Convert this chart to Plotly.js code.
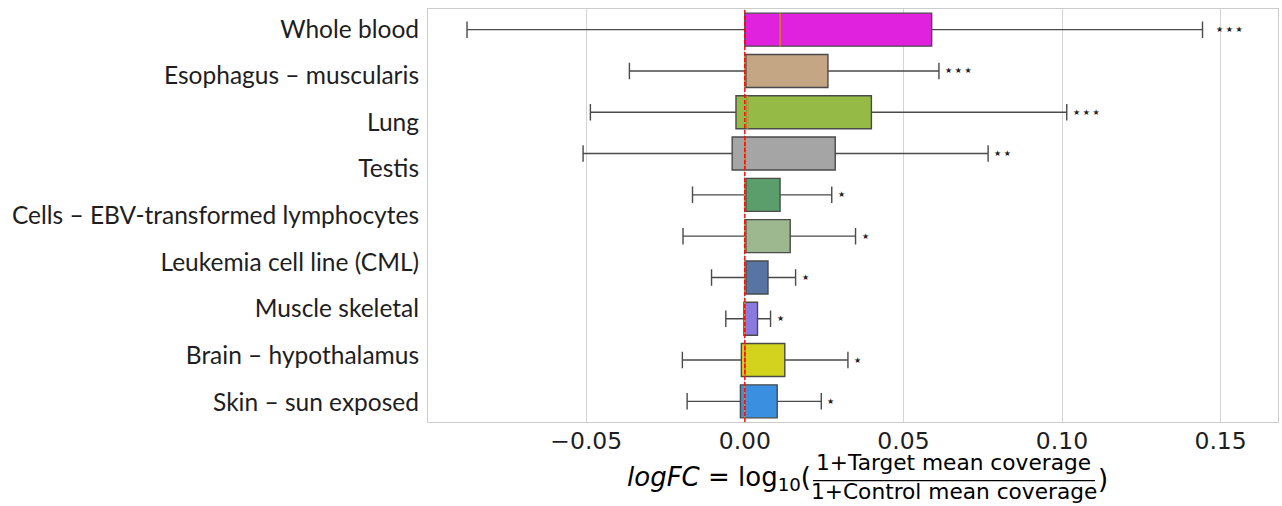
<!DOCTYPE html>
<html>
<head>
<meta charset="utf-8">
<script src="https://cdn.plot.ly/plotly-3.0.1.min.js"></script>
<style>html,body{margin:0;padding:0;background:#fff;}#chart{width:1282px;height:506px;}</style>
</head>
<body>
<div id="chart"></div>
<script>
// ---- data ----
const tissueLabels = [
  "Whole blood",
  "Esophagus \u2013 muscularis",
  "Lung",
  "Testis",
  "Cells \u2013 EBV-transformed lymphocytes",
  "Leukemia cell line (CML)",
  "Muscle skeletal",
  "Brain \u2013 hypothalamus",
  "Skin \u2013 sun exposed"
];
const boxIds     = ["b1","b2","b3","b4","b5","b6","b7","b8","b9","b10"];
const lowerFence = [-0.0876, -0.0364, -0.0487, -0.0510, -0.0165, -0.0195, -0.0105, -0.0060, -0.0197, -0.0182];
const q1Values   = [ 0.0000,  0.0000, -0.0028, -0.0040,  0.0000,  0.0000,  0.0000, -0.0003, -0.0011, -0.0014];
const medians    = [ 0.0111,  0.0000,  0.0008,  0.0000,  0.0000,  0.0000,  0.0000,  0.0000,  0.0000,  0.0000];
const q3Values   = [ 0.0589,  0.0262,  0.0399,  0.0285,  0.0111,  0.0143,  0.0073,  0.0040,  0.0126,  0.0102];
const upperFence = [ 0.1443,  0.0612,  0.1015,  0.0767,  0.0274,  0.0349,  0.0160,  0.0081,  0.0325,  0.0241];
const significance = ["***","***","***","**","*","*","*","*","*","*"];
const boxColors  = ["#e022de","#c4a584","#95bb46","#a5a5a5","#5c9e6b","#9db78f","#5874a4","#8a7ae0","#d3d21c","#3b8fe0"];
const xTickVals  = [-0.05, 0, 0.05, 0.10, 0.15];

// ---- layout geometry helpers (pixel -> paper) ----
const L = 428, R = 4, T = 9, B = 84, W = 1282, H = 506;
const PW = W - L - R, PH = H - T - B;
const px = v => (v - L) / PW;
const py = v => (T + PH - v) / PH;

const traces = boxIds.map((id, i) => ({
  type: "box",
  orientation: "h",
  y: [id],
  q1: [q1Values[i]],
  median: [medians[i]],
  q3: [q3Values[i]],
  lowerfence: [lowerFence[i]],
  upperfence: [upperFence[i]],
  fillcolor: boxColors[i],
  line: {color: "#4a4a4a", width: 1.4},
  width: 0.8,
  whiskerwidth: 0.5,
  boxpoints: false,
  showlegend: false,
  hoverinfo: "skip",
  xaxis: "x", yaxis: "y"
}));
// carrier trace for the label axis
traces.push({type: "scatter", x: [null], y: [null], xaxis: "x", yaxis: "y2", showlegend: false, hoverinfo: "skip", mode: "markers"});

const shapes = [];
medians.forEach((m, i) => {
  shapes.push({type: "line", xref: "x", yref: "y", x0: m, x1: m, y0: i - 0.4, y1: i + 0.4,
    line: {color: "#f08030", width: 1.5}, layer: "above"});
});
shapes.push({type: "line", xref: "x", yref: "paper", x0: 0, x1: 0, y0: 0, y1: 1,
  line: {color: "#ff0000", width: 1.4, dash: "4px,2px"}, layer: "above"});
// fraction bar of the x label
shapes.push({type: "line", xref: "paper", yref: "paper", x0: px(813), x1: px(1095), y0: py(480.7), y1: py(480.7),
  line: {color: "#000", width: 1.3}});

const annotations = [];
significance.forEach((s, i) => {
  annotations.push({
    xref: "x", yref: "y", x: upperFence[i], y: i,
    text: s.split("").map(() => "\u2605").join(" "),
    showarrow: false, xanchor: "left", yanchor: "middle",
    xshift: i === 0 ? 11 : 4,
    font: {family: "DejaVu Sans", size: 8, color: "#222"}
  });
});
const mathFont = {family: "DejaVu Sans", size: 26, color: "#000"};
const fracFont = {family: "DejaVu Sans", size: 21.7, color: "#000"};
annotations.push({xref: "paper", yref: "paper", x: px(813), y: py(478), xanchor: "right", yanchor: "middle",
  showarrow: false, text: "<i>logFC</i> = log<sub>10</sub>(", font: mathFont});
annotations.push({xref: "paper", yref: "paper", x: px(953.5), y: py(463), xanchor: "center", yanchor: "middle",
  showarrow: false, text: "1+Target mean coverage", font: fracFont});
annotations.push({xref: "paper", yref: "paper", x: px(953.5), y: py(491), xanchor: "center", yanchor: "middle",
  showarrow: false, text: "1+Control mean coverage", font: fracFont});
annotations.push({xref: "paper", yref: "paper", x: px(1096), y: py(479), xanchor: "left", yanchor: "middle",
  showarrow: false, text: ")", font: mathFont});

const layout = {
  width: W, height: H,
  margin: {l: L, r: R, t: T, b: B, pad: 0},
  paper_bgcolor: "#fff", plot_bgcolor: "#fff",
  boxmode: "overlay",
  xaxis: {
    range: [-0.0999, 0.1681], tickvals: xTickVals, tickformat: ".2f",
    showgrid: true, gridcolor: "#d4d4d4", gridwidth: 1, zeroline: false,
    showline: true, linecolor: "#cccccc", linewidth: 1.3, mirror: true,
    ticks: "", ticklabelstandoff: -3,
    tickfont: {family: "DejaVu Sans", size: 23.5, color: "#1e1e1e"}
  },
  yaxis: {
    type: "category", categoryorder: "array", categoryarray: boxIds,
    range: [boxIds.length - 0.5, -0.5],
    showticklabels: false, showgrid: false, zeroline: false,
    showline: true, linecolor: "#cccccc", linewidth: 1.3, mirror: true, ticks: ""
  },
  yaxis2: {
    overlaying: "y", side: "left",
    range: [tissueLabels.length - 0.57, -0.43],
    tickmode: "array", tickvals: tissueLabels.map((_, i) => i), ticktext: tissueLabels,
    showgrid: false, zeroline: false, showline: false, ticks: "", ticklabelstandoff: 8,
    tickfont: {family: "Lato", size: 24.5, color: "#1e1e1e"}
  },
  shapes: shapes,
  annotations: annotations
};

Plotly.newPlot("chart", traces, layout, {displayModeBar: false, staticPlot: true});
</script>
</body>
</html>
